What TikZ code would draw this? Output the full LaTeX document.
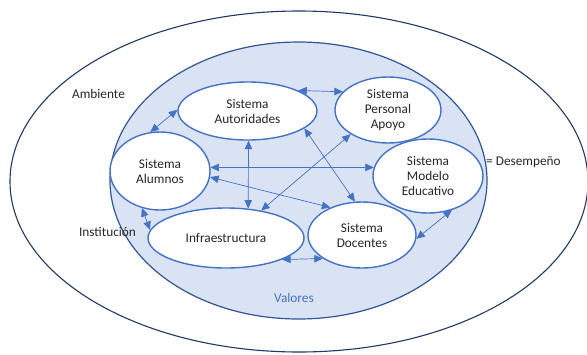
\documentclass[tikz,border=0pt]{standalone}
\usepackage{fontspec}
\setmainfont{Carlito}
\usetikzlibrary{shapes.geometric,arrows.meta}
\definecolor{accent}{HTML}{4472C4}
\definecolor{darkring}{HTML}{2F5597}
\definecolor{navyring}{HTML}{203864}
\definecolor{paleblue}{HTML}{DAE3F3}
\definecolor{txt}{HTML}{262626}
\tikzset{
  subsys/.style={ellipse, draw=accent, line width=1.4pt, fill=white, inner sep=0pt,
    align=center, text=txt, font=\fontsize{13.3}{15}\selectfont},
  link/.style={draw=accent, line width=0.7pt, {Triangle[length=8.5pt,width=7.5pt]}-{Triangle[length=8.5pt,width=7.5pt]}},
  lbl/.style={text=txt, font=\fontsize{13.3}{15}\selectfont, inner sep=0pt}
}
\begin{document}
\begin{tikzpicture}[x=1pt,y=-1pt]
\useasboundingbox (0,0) rectangle (587,354);
% environment and institution rings
\node[ellipse, draw=navyring, line width=1.1pt, minimum width=578pt, minimum height=341pt, inner sep=0pt] (amb) at (299,181.5) {};
\node[ellipse, draw=darkring, fill=paleblue, line width=1.2pt, minimum width=377pt, minimum height=277pt, inner sep=0pt] (inst) at (298.5,180.5) {};
% labels
\node[lbl] (lamb) at (98.5,94) {Ambiente};
\node[lbl] (linst) at (107.5,232) {Institución};
\node[lbl, anchor=west] (ldes) at (486,162) {= Desempeño};
\node[lbl, text=accent] (lval) at (294,298) {Valores};
% subsystems
\node[subsys, minimum width=139pt, minimum height=58pt] (aut) at (247.5,111) {Sistema\\Autoridades};
\node[subsys, minimum width=106pt, minimum height=66pt] (per) at (388,110) {Sistema\\Personal\\Apoyo};
\node[subsys, minimum width=100pt, minimum height=78pt] (alu) at (160,171) {Sistema\\Alumnos};
\node[subsys, minimum width=110pt, minimum height=74pt] (mod) at (428,176) {Sistema\\Modelo\\Educativo};
\node[subsys, minimum width=156pt, minimum height=60pt] (inf) at (226,238) {Infraestructura};
\node[subsys, minimum width=108pt, minimum height=66pt] (doc) at (362,235) {Sistema\\Docentes};
% relations
\draw[link] (alu.104) -- (aut.179);
\draw[link] (aut.22) -- (per.158);
\draw[link] (aut.-88) -- (inf.53);
\draw[link] (aut.-17) -- (doc.102);
\draw[link] (per.213) -- (inf.38);
\draw[link] (alu.4) -- (mod.171);
\draw[link] (alu.-7) -- (doc.139);
\draw[link] (alu.244) -- (inf.174);
\draw[link] (inf.-21) -- (doc.211);
\draw[link] (doc.-4) -- (mod.-55);
\end{tikzpicture}
\end{document}
